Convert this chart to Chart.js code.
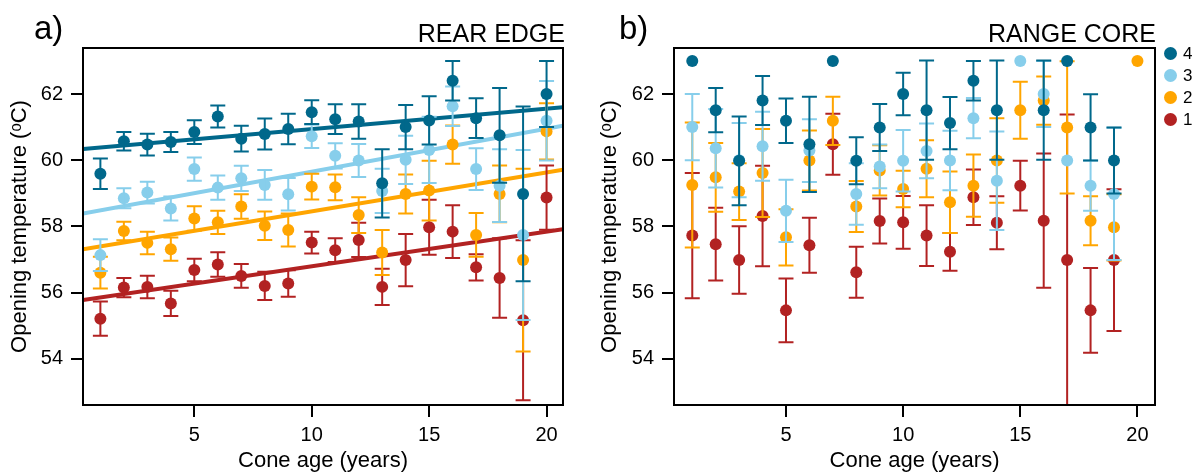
<!DOCTYPE html>
<html>
<head>
<meta charset="utf-8">
<script src="https://cdn.jsdelivr.net/npm/chart.js@4.4.1/dist/chart.umd.min.js"></script>
<style>
  body { margin: 0; background: #fff; width: 1192px; height: 473px; position: relative; overflow: hidden;
         font-family: 'Liberation Sans', Arial, sans-serif; }
  .panel { position: absolute; top: 0; height: 473px; }
  .lbl { position: absolute; color: #000; white-space: nowrap; line-height: 1; }
  .legend { position: absolute; left: 1164px; top: 42px; font-size: 17px; line-height: 1; }
  .legend div { height: 22px; display: flex; align-items: center; }
  .legend span.dot { width: 13px; height: 13px; border-radius: 50%; display: inline-block; margin-right: 6px; }
</style>
</head>
<body>
<div class="panel" style="left:0;width:590px"><canvas id="rear" width="590" height="473"></canvas></div>
<div class="panel" style="left:590px;width:602px"><canvas id="core" width="602" height="473"></canvas></div>

<div class="lbl" style="left:34px;top:11px;font-size:33px">a)</div>
<div class="lbl" style="right:627px;top:21px;font-size:25px">REAR EDGE</div>
<div class="lbl" style="left:619px;top:11px;font-size:33px">b)</div>
<div class="lbl" style="right:36px;top:21px;font-size:25px">RANGE CORE</div>
<div class="legend" id="legend"></div>

<script>
// ─── Data ────────────────────────────────────────────────────────────────────

const ages   = [1, 2, 3, 4, 5, 6, 7, 8, 9, 10, 11, 12, 13, 14, 15, 16, 17, 18, 19, 20];
const xTicks = [5, 10, 15, 20];
const yTicks = [54, 56, 58, 60, 62];

const seriesNames  = ['4', '3', '2', '1'];
const seriesColors = ['#00688B', '#87CEEB', '#FFA500', '#B22222'];

// REAR EDGE: means and half-widths of the error bars
const rear4    = [59.59, 60.57, 60.47, 60.55, 60.85, 61.32, 60.65, 60.79, 60.94, 61.45, 61.24, 61.17, 59.30, 61.00, 61.20, 62.40, 61.27, 60.75, 58.98, 62.00];
const rear4Err = [0.46, 0.28, 0.33, 0.30, 0.36, 0.33, 0.39, 0.47, 0.46, 0.36, 0.45, 0.52, 1.03, 0.67, 0.73, 0.60, 0.60, 1.43, 2.64, 1.00];
const rear3    = [57.13, 58.85, 59.02, 58.54, 59.73, 59.17, 59.45, 59.25, 58.97, 60.72, 60.13, 59.99, 59.07, 60.01, 60.31, 61.63, 59.73, 59.23, 57.74, 61.19];
const rear3Err = [0.48, 0.30, 0.33, 0.36, 0.35, 0.37, 0.38, 0.45, 0.49, 0.35, 0.38, 0.50, 0.67, 0.73, 1.00, 0.60, 0.63, 1.10, 2.57, 1.20];
const rear2    = [56.60, 57.86, 57.50, 57.31, 58.24, 58.12, 58.60, 58.02, 57.89, 59.20, 59.18, 58.34, 57.21, 58.98, 59.08, 60.47, 57.74, 58.98, 56.98, 60.87];
const rear2Err = [0.48, 0.28, 0.34, 0.35, 0.37, 0.35, 0.37, 0.43, 0.50, 0.39, 0.39, 0.54, 0.68, 0.59, 0.90, 0.58, 0.66, 0.86, 2.76, 0.85];
const rear1    = [55.21, 56.15, 56.17, 55.67, 56.68, 56.85, 56.50, 56.20, 56.27, 57.51, 57.28, 57.59, 56.17, 56.98, 57.97, 57.84, 56.76, 56.44, 55.16, 58.87];
const rear1Err = [0.52, 0.29, 0.34, 0.38, 0.34, 0.37, 0.36, 0.43, 0.40, 0.33, 0.36, 0.52, 0.55, 0.79, 0.83, 0.80, 0.40, 1.20, 2.42, 0.97];

// REAR EDGE: fitted lines, value at each end of the x range
const rearFitX = [0.26, 20.70];
const rearFit4 = [60.34, 61.60];
const rearFit3 = [58.39, 61.04];
const rearFit2 = [57.31, 59.71];
const rearFit1 = [55.77, 57.91];

// RANGE CORE
const core4    = [63.00, 61.51, 59.98, 61.80, 61.19, 60.48, 63.00, 59.98, 60.99, 62.00, 61.51, 61.12, 62.40, 61.51, null, 61.51, 63.00, 60.99, 59.99, null];
const core4Err = [0, 0.67, 1.34, 0.74, 0.67, 1.44, 0, 0.71, 0.71, 0.64, 1.50, 0.79, 0.60, 1.50, 0, 1.50, 0, 1.00, 1.00, 0];
const core3    = [61.00, 60.36, 60.00, 60.42, 58.47, 60.29, null, 58.98, 59.81, 59.98, 60.28, 59.99, 61.27, 59.38, 63.00, 62.00, 59.99, 59.23, 58.98, null];
const core3Err = [1.00, 1.19, 1.12, 1.04, 0.94, 0.95, 0, 0.93, 0.66, 0.93, 0.83, 0.90, 0.61, 1.49, 0, 1.00, 0, 0.76, 2.00, 0];
const core2    = [59.25, 59.48, 59.05, 59.61, 57.67, 59.99, 61.19, 58.60, 59.69, 59.13, 59.74, 58.73, 59.23, 59.99, 61.51, 61.80, 60.99, 58.17, 57.97, 63.00];
const core2Err = [1.89, 1.04, 0.86, 1.33, 0.85, 0.91, 0.73, 0.77, 0.76, 0.55, 0.86, 0.93, 0.94, 1.28, 0.86, 0.73, 2.00, 0.74, 1.00, 0];
const core1    = [57.72, 57.46, 56.98, 58.31, 55.46, 57.43, 60.48, 56.61, 58.16, 58.12, 57.72, 57.23, 58.88, 58.11, 59.23, 58.17, 56.98, 55.46, 56.98, null];
const core1Err = [1.89, 1.10, 1.02, 1.52, 0.96, 0.83, 0.92, 0.77, 0.68, 0.80, 0.92, 0.57, 0.84, 0.80, 0.75, 2.03, 4.40, 1.28, 2.14, 0];

// ─── Plugins ─────────────────────────────────────────────────────────────────

const FONT = "'Liberation Sans', Arial, sans-serif";

// error bars drawn right after each dataset's points
const errorBars = {
  id: 'errorBars',
  afterDatasetDraw(chart, args) {
    const ds = chart.data.datasets[args.index];
    if (ds.type === 'line') return;
    const { ctx, chartArea: a, scales: { x, y } } = chart;
    ctx.save();
    ctx.beginPath();
    ctx.rect(a.left, a.top, a.width, a.height);
    ctx.clip();
    ctx.strokeStyle = ds.borderColor;
    ctx.lineWidth = 2;
    ds.data.forEach(p => {
      if (!p.e) return;
      const px  = x.getPixelForValue(p.x);
      const top = y.getPixelForValue(p.y + p.e);
      const bot = y.getPixelForValue(p.y - p.e);
      ctx.beginPath();
      ctx.moveTo(px, top);       ctx.lineTo(px, bot);
      ctx.moveTo(px - 7.5, top); ctx.lineTo(px + 7.5, top);
      ctx.moveTo(px - 7.5, bot); ctx.lineTo(px + 7.5, bot);
      ctx.stroke();
    });
    ctx.restore();
  },
};

const frame = {
  id: 'frame',
  afterDraw(chart) {
    const { ctx, chartArea: a } = chart;
    ctx.save();
    ctx.strokeStyle = '#000';
    ctx.lineWidth = 2;
    ctx.strokeRect(a.left, a.top, a.width, a.height);
    ctx.restore();
  },
};

// ─── Builders ────────────────────────────────────────────────────────────────

function points(vals, errs) {
  return ages.map((a, i) => ({ x: a, y: vals[i], e: errs[i] })).filter(p => p.y !== null);
}

function scatterSet(k, vals, errs) {
  // teal on top, red at the bottom
  return {
    type: 'scatter',
    data: points(vals, errs),
    backgroundColor: seriesColors[k],
    borderColor: seriesColors[k],
    pointRadius: 6,
    pointHoverRadius: 6,
    pointBorderWidth: 0,
    order: k + 1,
  };
}

function fitSet(k, fx, fy) {
  return {
    type: 'line',
    data: fx.map((x, i) => ({ x, y: fy[i] })),
    borderColor: seriesColors[k],
    borderWidth: 4,
    pointRadius: 0,
    fill: false,
    order: 10,
  };
}

function makeChart(id, yWidth, rightPad, xMin, xMax, datasets) {
  return new Chart(document.getElementById(id), {
    data: { datasets },
    plugins: [errorBars, frame],
    options: {
      responsive: false,
      animation: false,
      layout: { padding: { top: 48, right: rightPad, left: 0, bottom: 0 } },
      plugins: { legend: { display: false }, tooltip: { enabled: false } },
      scales: {
        x: {
          type: 'linear', min: xMin, max: xMax,
          afterBuildTicks: s => { s.ticks = xTicks.map(v => ({ value: v })); },
          afterFit: s => { s.height = 68; },
          grid: { drawOnChartArea: false, drawTicks: true, tickLength: 12, tickColor: '#000', lineWidth: 2 },
          border: { display: false },
          ticks: { color: '#000', padding: 6, font: { size: 20, family: FONT } },
          title: { display: true, text: 'Cone age (years)', color: '#000', padding: { top: 0, bottom: -1 },
                   font: { size: 22, family: FONT } },
        },
        y: {
          type: 'linear', min: 52.6, max: 63.39,
          afterBuildTicks: s => { s.ticks = yTicks.map(v => ({ value: v })); },
          afterFit: s => { s.width = yWidth; },
          grid: { drawOnChartArea: false, drawTicks: true, tickLength: 12, tickColor: '#000', lineWidth: 2 },
          border: { display: false },
          ticks: { color: '#000', padding: 8, font: { size: 20, family: FONT } },
          title: { display: true, text: 'Opening temperature (ᵒC)', color: '#000', padding: { top: 7, bottom: 0 },
                   font: { size: 22, family: FONT } },
        },
      },
    },
  });
}

makeChart('rear', 83, 27, 0.26, 20.70, [
  fitSet(0, rearFitX, rearFit4),
  fitSet(1, rearFitX, rearFit3),
  fitSet(2, rearFitX, rearFit2),
  fitSet(3, rearFitX, rearFit1),
  scatterSet(0, rear4, rear4Err),
  scatterSet(1, rear3, rear3Err),
  scatterSet(2, rear2, rear2Err),
  scatterSet(3, rear1, rear1Err),
]);

makeChart('core', 84, 37, 0.22, 20.75, [
  scatterSet(0, core4, core4Err),
  scatterSet(1, core3, core3Err),
  scatterSet(2, core2, core2Err),
  scatterSet(3, core1, core1Err),
]);

// legend
const legend = document.getElementById('legend');
seriesNames.forEach((n, k) => {
  const row = document.createElement('div');
  row.innerHTML = `<span class="dot" style="background:${seriesColors[k]}"></span>${n}`;
  legend.appendChild(row);
});
</script>
</body>
</html>
